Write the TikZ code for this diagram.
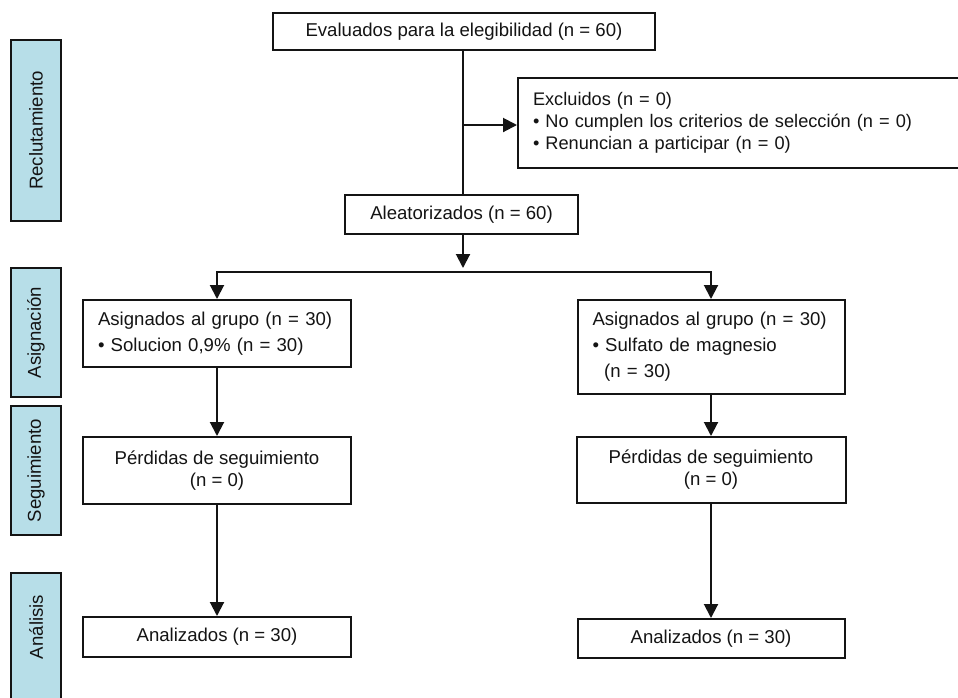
\documentclass[tikz,border=0pt]{standalone}
\usepackage{fontspec}
\setmainfont{Liberation Sans}
\usetikzlibrary{arrows.meta}
\definecolor{sidefill}{RGB}{183,222,232}
\definecolor{ink}{RGB}{20,20,20}
\begin{document}
\begin{tikzpicture}[x=1pt,y=-1pt,
  box/.style={draw=ink, line width=2pt, fill=white, inner xsep=15pt, inner ysep=0pt,
    text=ink, font=\fontsize{18.6}{22}\selectfont},
  wide/.style={font=\fontsize{18.6}{26}\selectfont},
  side/.style={draw=ink, line width=2pt, fill=sidefill, rotate=90, inner sep=0pt,
    minimum height=50pt, text=ink, font=\fontsize{18.6}{22}\selectfont},
  arr/.style={draw=ink, line width=2pt, -{Triangle[length=14pt,width=14pt]}},
  ln/.style={draw=ink, line width=2pt}]
\useasboundingbox (0,0) rectangle (958,697);
\clip (0,0) rectangle (958,697);

% side labels
\node[side, minimum width=181pt] (recl) at (36,130.5) {Reclutamiento};
\node[side, minimum width=129pt] (asigS) at (36,332.5) {Asignación};
\node[side, minimum width=129pt] (segS) at (36,470.5) {Seguimiento};
\path[draw=ink, line width=2pt, fill=sidefill] (11,573) rectangle (61,712);
\node[rotate=90, text=ink, font=\fontsize{18.6}{22}\selectfont] (anaS) at (36,627) {Análisis};

% main boxes
\node[box, minimum width=382pt, minimum height=37pt] (eval) at (464,31.5)
  {Evaluados para la elegibilidad (n = 60)};
\node[box, anchor=west, minimum height=90pt, text width=420pt, align=left,
  font=\fontsize{18.2}{22}\selectfont] (excl) at (517,123)
  {Excluidos (n = 0)\\• No cumplen los criterios de selección (n = 0)\\• Renuncian a participar (n = 0)};
\node[box, minimum width=233pt, minimum height=39pt] (alea) at (461.5,214.5)
  {Aleatorizados (n = 60)};

\node[box, wide, text width=238pt, align=left, minimum height=67pt] (asigL) at (217,333.5)
  {Asignados al grupo (n = 30)\\• Solucion 0,9\% (n = 30)};
\node[box, wide, text width=237pt, align=left, minimum height=94pt] (asigR) at (711,347)
  {Asignados al grupo (n = 30)\\• Sulfato de magnesio\\\hspace*{11.7pt}(n = 30)};

\node[box, minimum width=268pt, minimum height=67pt, align=center] (perdL) at (217,470.5)
  {Pérdidas de seguimiento\\(n = 0)};
\node[box, minimum width=269pt, minimum height=66pt, align=center] (perdR) at (711,470)
  {Pérdidas de seguimiento\\(n = 0)};

\node[box, minimum width=268pt, minimum height=40pt] (anaL) at (217,637) {Analizados (n = 30)};
\node[box, minimum width=267pt, minimum height=39pt] (anaR) at (711,638.5) {Analizados (n = 30)};

% connectors
\coordinate (tipA) at (463,268);
\coordinate (split) at (463,272);
\draw[ln] (eval.south -| tipA) -- (alea.north -| tipA);
\draw[arr] (tipA |- 0,125) -- (excl.west |- 0,125);
\draw[arr] (alea.south -| tipA) -- (tipA);
\draw[arr] (split) -| (asigL.north);
\draw[arr] (split) -| (asigR.north);
\draw[arr] (asigL.south) -- (perdL.north);
\draw[arr] (asigR.south) -- (perdR.north);
\draw[arr] (perdL.south) -- (anaL.north);
\draw[arr] (perdR.south) -- (anaR.north);
\end{tikzpicture}
\end{document}
